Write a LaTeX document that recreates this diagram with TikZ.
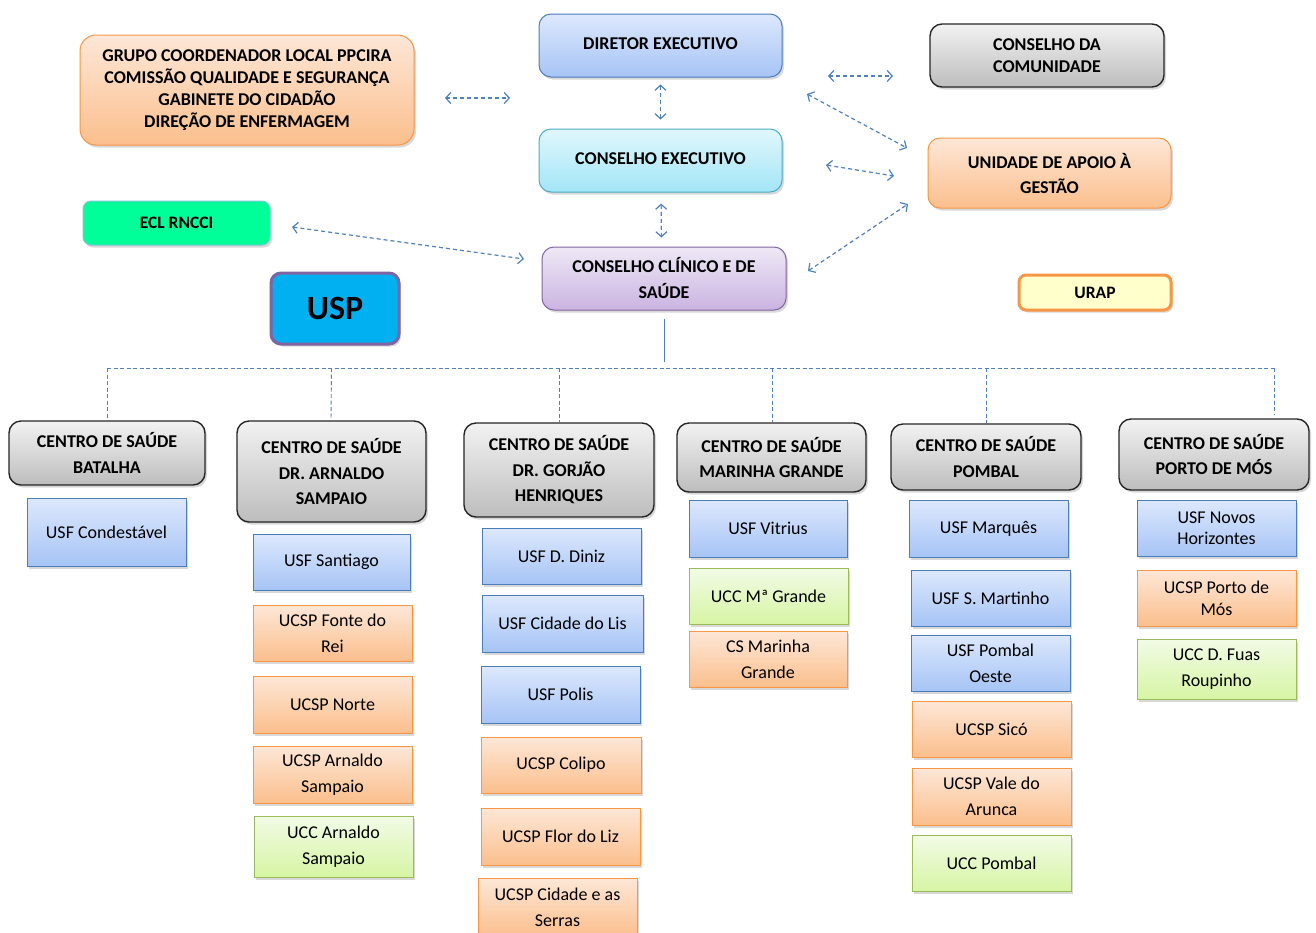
\documentclass[tikz,border=0pt]{standalone}
\usepackage{fontspec}
\setmainfont{Carlito}
\usetikzlibrary{arrows.meta,shadows}
\definecolor{lnblue}{HTML}{4F81BD}
\definecolor{bTop}{HTML}{DDE8FD}
\definecolor{bBot}{HTML}{A6C4F5}
\definecolor{bBrd}{HTML}{4A7EBB}
\definecolor{oTop}{HTML}{FDE7D7}
\definecolor{oBot}{HTML}{FBBF8D}
\definecolor{oBrd}{HTML}{F79646}
\definecolor{gTop}{HTML}{F2FBE6}
\definecolor{gBot}{HTML}{D6F5A4}
\definecolor{gBrd}{HTML}{9BBB59}
\definecolor{kTop}{HTML}{F2F2F2}
\definecolor{kBot}{HTML}{BDBDBD}
\definecolor{kBrd}{HTML}{262626}
\definecolor{cTop}{HTML}{E0F7FC}
\definecolor{cBot}{HTML}{A3E5F7}
\definecolor{cBrd}{HTML}{4BACC6}
\definecolor{pTop}{HTML}{EFE8F6}
\definecolor{pBot}{HTML}{CAB4E1}
\definecolor{pBrd}{HTML}{8064A2}
\definecolor{eclFill}{HTML}{00FF99}
\definecolor{uspFill}{HTML}{00B0F0}
\definecolor{urapFill}{HTML}{FFFFCC}
\newcommand\txsmall{\fontsize{18}{26}\selectfont}
\newcommand\txhead{\bfseries\fontsize{18}{25.5}\selectfont}
\newcommand\txtop{\bfseries\fontsize{18}{22}\selectfont}
\tikzset{
  shd/.style={drop shadow={opacity=0.3,shadow xshift=2pt,shadow yshift=-2.5pt}},
  basebox/.style={draw,line width=1pt,align=center,inner sep=0pt,text=black},
  unit/.style={basebox,shd,font=\txsmall},
  ublue/.style={unit,draw=bBrd,top color=bTop,bottom color=bBot},
  uorange/.style={unit,draw=oBrd,top color=oTop,bottom color=oBot},
  ugreen/.style={unit,draw=gBrd,top color=gTop,bottom color=gBot},
  center/.style={basebox,shd,rounded corners=12pt,line width=1.4pt,draw=kBrd,top color=kTop,bottom color=kBot,font=\txhead},
  topbox/.style={basebox,shd,rounded corners=12pt,font=\txtop},
  conn/.style={lnblue,line width=1.2pt,dash pattern=on 4pt off 3pt,{Straight Barb[length=5pt,width=11pt]}-{Straight Barb[length=5pt,width=11pt]}},
  tree/.style={lnblue,line width=0.9pt,dash pattern=on 4pt off 2.5pt},
}
\begin{document}
\begin{tikzpicture}[x=1pt,y=-1pt]
\clip (0,0) rectangle (1316,932);
\fill[white] (0,0) rectangle (1316,932);
% top boxes
\node[topbox,draw=oBrd,top color=oTop,bottom color=oBot,minimum width=334pt,minimum height=110pt,rounded corners=16pt] (grupo) at (247,90) {GRUPO COORDENADOR LOCAL PPCIRA\\COMISSÃO QUALIDADE E SEGURANÇA\\GABINETE DO CIDADÃO\\DIREÇÃO DE ENFERMAGEM};
\node[topbox,draw=bBrd,top color=bTop,bottom color=bBot,minimum width=243pt,minimum height=63pt] (dir) at (660.5,45.5) {DIRETOR EXECUTIVO\vphantom{p}};
\node[topbox,draw=cBrd,top color=cTop,bottom color=cBot,minimum width=243pt,minimum height=63pt] (ce) at (660.5,160.5) {CONSELHO EXECUTIVO\vphantom{p}};
\node[topbox,draw=pBrd,top color=pTop,bottom color=pBot,minimum width=244pt,minimum height=63pt,font=\bfseries\fontsize{18}{26}\selectfont] (ccs) at (664,278.5) {CONSELHO CLÍNICO E DE\\SAÚDE};
\node[topbox,draw=kBrd,line width=1.4pt,top color=kTop,bottom color=kBot,minimum width=234pt,minimum height=63pt] (cdc) at (1047,55.5) {CONSELHO DA\\COMUNIDADE};
\node[topbox,draw=oBrd,top color=oTop,bottom color=oBot,minimum width=243pt,minimum height=70pt,font=\bfseries\fontsize{18}{25}\selectfont] (uag) at (1049.5,173) {UNIDADE DE APOIO À\\GESTÃO};
\node[topbox,draw=cBrd!70,fill=eclFill,minimum width=187pt,minimum height=44pt,rounded corners=8pt,font=\bfseries\fontsize{17.5}{20}\selectfont] (ecl) at (176.5,223) {ECL RNCCI};
\node[basebox,shd,draw=pBrd,line width=3pt,fill=uspFill,minimum width=128pt,minimum height=71pt,rounded corners=10pt,font=\bfseries\fontsize{34}{40}\selectfont] (usp) at (335,308.5) {USP};
\node[basebox,shd,draw=oBrd,line width=3pt,fill=urapFill,minimum width=152pt,minimum height=35pt,rounded corners=7pt,font=\bfseries\fontsize{17.5}{20}\selectfont] (urap) at (1095,292.5) {URAP};
% connectors
\coordinate (a1s) at (445,98); \coordinate (a1e) at (510,98);
\coordinate (a4s) at (828,76); \coordinate (a4e) at (893,76);
\coordinate (a5s) at (807,94); \coordinate (a5e) at (907,148);
\coordinate (a6s) at (826,165); \coordinate (a6e) at (894,176);
\coordinate (a7s) at (808,271); \coordinate (a7e) at (908,204);
\coordinate (a8s) at (292,227); \coordinate (a8e) at (524,259);
\draw[conn] (a1s) -- (a1e);
\draw[conn,shorten <=7pt,shorten >=9pt] (dir.south) -- (ce.north);
\draw[conn,shorten <=11pt,shorten >=9pt] ([xshift=0.5pt]ce.south) -- ([xshift=-2.5pt]ccs.north);
\draw[conn] (a4s) -- (a4e);
\draw[conn] (a5s) -- (a5e);
\draw[conn] (a6s) -- (a6e);
\draw[conn] (a7s) -- (a7e);
\draw[conn] (a8s) -- (a8e);
% centre nodes
\node[center,minimum width=196pt,minimum height=64pt] (bat) at (107,453) {CENTRO DE SAÚDE\\BATALHA};
\node[center,minimum width=189pt,minimum height=101pt] (arn) at (331.5,471.5) {CENTRO DE SAÚDE\\DR. ARNALDO\\SAMPAIO};
\node[center,minimum width=190pt,minimum height=94pt] (gor) at (559,470) {CENTRO DE SAÚDE\\DR. GORJÃO\\HENRIQUES};
\node[center,minimum width=189pt,minimum height=69pt] (mar) at (771.5,457.5) {CENTRO DE SAÚDE\\MARINHA GRANDE};
\node[center,minimum width=190pt,minimum height=66pt] (pom) at (986,457) {CENTRO DE SAÚDE\\POMBAL};
\node[center,minimum width=190pt,minimum height=71pt] (por) at (1214,454.5) {CENTRO DE SAÚDE\\PORTO DE MÓS};
% tree
\coordinate (trunk) at (664,362);
\coordinate (hl) at (107,368); \coordinate (hr) at (1274,368);
\coordinate (porTop) at (1274,415);
\draw[lnblue,line width=1pt,shorten <=8pt] (ccs.south) -- (trunk);
\draw[tree] (hl) -- (hr);
\draw[tree] (hl) -- (bat.north);
\draw[tree] (arn.north |- hl) -- ([xshift=-0.5pt]arn.north);
\draw[tree] (gor.north |- hl) -- (gor.north);
\draw[tree] ([xshift=0.5pt]mar.north |- hl) -- ([xshift=0.5pt]mar.north);
\draw[tree] (pom.north |- hl) -- (pom.north);
\draw[tree] (hr) -- (porTop);
% column 1
\node[ublue,minimum width=159pt,minimum height=68pt] (u11) at (106.5,532) {USF Condestável};
% column 2
\node[ublue,minimum width=157pt,minimum height=56pt] (u21) at (331.5,562) {USF Santiago};
\node[uorange,minimum width=159pt,minimum height=56pt] (u22) at (332.5,633) {UCSP Fonte do\\Rei};
\node[uorange,minimum width=159pt,minimum height=57pt] (u23) at (332.5,704.5) {UCSP Norte};
\node[uorange,minimum width=159pt,minimum height=57pt] (u24) at (332.5,774.5) {UCSP Arnaldo\\Sampaio};
\node[ugreen,minimum width=159pt,minimum height=61pt] (u25) at (333.5,846.5) {UCC Arnaldo\\Sampaio};
% column 3
\node[ublue,minimum width=159pt,minimum height=56pt] (u31) at (561.5,556) {USF D. Diniz};
\node[ublue,minimum width=161pt,minimum height=57pt] (u32) at (562.5,623.5) {USF Cidade do Lis};
\node[ublue,minimum width=159pt,minimum height=57pt] (u33) at (560.5,694.5) {USF Polis};
\node[uorange,minimum width=160pt,minimum height=56pt] (u34) at (561,765) {UCSP Colipo};
\node[uorange,minimum width=159pt,minimum height=57pt] (u35) at (560.5,836.5) {UCSP Flor do Liz};
\node[uorange,minimum width=159pt,minimum height=58pt] (u36) at (557.5,907) {UCSP Cidade e as\\Serras};
% column 4
\node[ublue,minimum width=158pt,minimum height=57pt] (u41) at (768,528.5) {USF Vitrius};
\node[ugreen,minimum width=159pt,minimum height=56pt] (u42) at (768.5,596) {UCC Mª Grande};
\node[uorange,minimum width=158pt,minimum height=56pt] (u43) at (768,659) {CS Marinha\\Grande};
% column 5
\node[ublue,minimum width=159pt,minimum height=57pt] (u51) at (988.5,528.5) {USF Marquês};
\node[ublue,minimum width=159pt,minimum height=56pt] (u52) at (990.5,598) {USF S. Martinho};
\node[ublue,minimum width=159pt,minimum height=56pt] (u53) at (990.5,663) {USF Pombal\\Oeste};
\node[uorange,minimum width=159pt,minimum height=56pt] (u54) at (991.5,729) {UCSP Sicó};
\node[uorange,minimum width=159pt,minimum height=57pt] (u55) at (991.5,796.5) {UCSP Vale do\\Arunca};
\node[ugreen,minimum width=159pt,minimum height=56pt] (u56) at (991.5,863) {UCC Pombal};
% column 6
\node[ublue,minimum width=159pt,minimum height=56pt,font=\fontsize{18}{21}\selectfont] (u61) at (1216.5,528) {USF Novos\\Horizontes};
\node[uorange,minimum width=159pt,minimum height=56pt,font=\fontsize{18}{22}\selectfont] (u62) at (1216.5,598) {UCSP Porto de\\Mós};
\node[ugreen,minimum width=159pt,minimum height=60pt] (u63) at (1216.5,669) {UCC D. Fuas\\Roupinho};
\end{tikzpicture}
\end{document}
